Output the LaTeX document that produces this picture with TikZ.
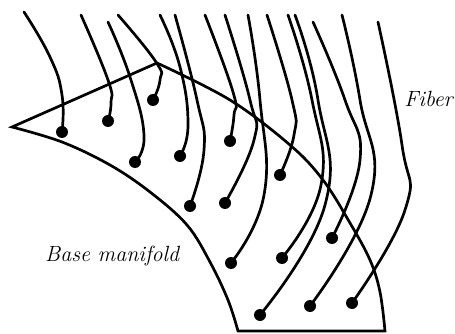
\documentclass[tikz,border=0pt]{standalone}
\usetikzlibrary{calc}
\begin{document}
\begin{tikzpicture}[x=1pt,y=-1pt,
  fiberline/.style={line width=2.7pt,line cap=round},
  basebd/.style={line width=2.7pt,line join=miter},
  dot/.style={circle,fill=black,inner sep=0pt,minimum size=12pt},
  lab/.style={font=\fontsize{22}{26}\selectfont\itshape,inner sep=0pt}]
\useasboundingbox (0,0) rectangle (455,334);
% base manifold
\draw[basebd] (12,127) -- (157,63)
  -- plot[smooth,tension=0.6] coordinates {(157,63) (230,100) (290,145) (323,180) (350,223) (370,260) (380,292) (385,331)}
  -- (238,331)
  -- plot[smooth,tension=0.6] coordinates {(238,331) (228,300) (210,262) (187,225) (150,192) (110,165) (62,142) (12,127)}
  -- cycle;
% fibers
\draw[fiberline] plot[smooth,tension=0.8] coordinates {(24,12) (50,57) (62,95) (62,132)};
\draw[fiberline] plot[smooth,tension=0.8] coordinates {(81,15) (108,80) (111,103) (108,121)};
\draw[fiberline] plot[smooth,tension=0.8] coordinates {(108,22) (130,77) (144,135) (135,162)};
\draw[fiberline] plot[smooth,tension=0.8] coordinates {(118,15) (156,62) (160,80) (153,100)};
\draw[fiberline] plot[smooth,tension=0.8] coordinates {(160,15) (180,67) (188,125) (180,156)};
\draw[fiberline] plot[smooth,tension=0.8] coordinates {(175,15) (197,100) (204,150) (190,206)};
\draw[fiberline] plot[smooth,tension=0.8] coordinates {(205,15) (233,92) (234,115) (230,141)};
\draw[fiberline] plot[smooth,tension=0.8] coordinates {(225,15) (250,100) (254,140) (225,203)};
\draw[fiberline] plot[smooth,tension=0.8] coordinates {(248,15) (260,100) (264,195) (231,263)};
\draw[fiberline] plot[smooth,tension=0.8] coordinates {(267,15) (292,100) (294,135) (280,175)};
\draw[fiberline] plot[smooth,tension=0.8] coordinates {(288,15) (312,100) (321,185) (282,258)};
\draw[fiberline] plot[smooth,tension=0.8] coordinates {(295,15) (318,100) (325,205) (260,315)};
\draw[fiberline] plot[smooth,tension=0.8] coordinates {(313,22) (345,100) (360,160) (332,238)};
\draw[fiberline] plot[smooth,tension=0.8] coordinates {(342,15) (360,100) (371,195) (310,306)};
\draw[fiberline] plot[smooth,tension=0.8] coordinates {(378,22) (402,145) (405,210) (352,303)};
% dots
\node[dot] (d1) at (62,132) {};
\node[dot] (d2) at (108,121) {};
\node[dot] (d3) at (153,100) {};
\node[dot] (d4) at (135,162) {};
\node[dot] (d5) at (180,156) {};
\node[dot] (d6) at (230,141) {};
\node[dot] (d7) at (190,206) {};
\node[dot] (d8) at (225,203) {};
\node[dot] (d9) at (280,175) {};
\node[dot] (d10) at (332,238) {};
\node[dot] (d11) at (231,263) {};
\node[dot] (d12) at (282,258) {};
\node[dot] (d13) at (260,315) {};
\node[dot] (d14) at (310,306) {};
\node[dot] (d15) at (352,303) {};
% labels
\node[lab,anchor=base east] (fib) at (453,107) {Fiber};
\node[lab,anchor=base west] (bm) at (45,261) {Base manifold};
\end{tikzpicture}
\end{document}
